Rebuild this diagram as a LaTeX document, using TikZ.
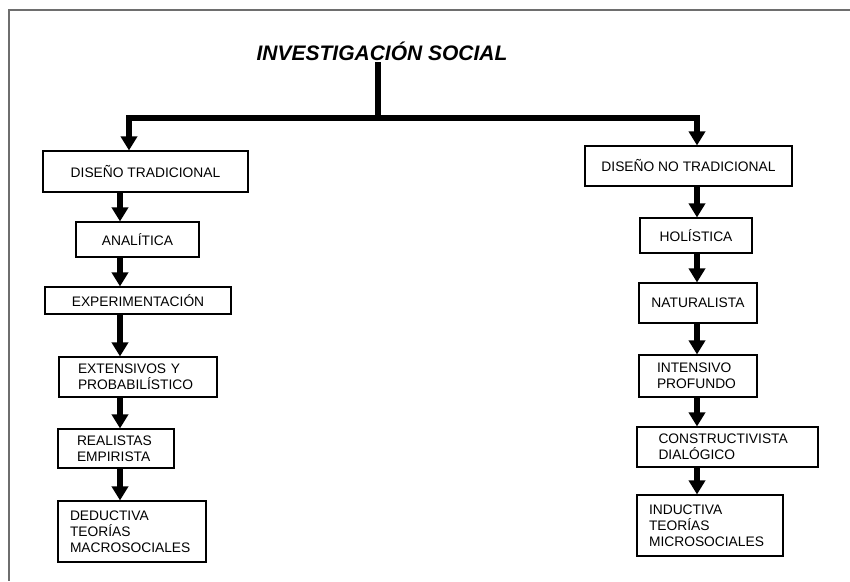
\documentclass[tikz,border=0pt]{standalone}
\usepackage{fontspec}
\setmainfont{Liberation Sans}
\usepackage{tikz}
\usetikzlibrary{arrows.meta}
\definecolor{framegray}{RGB}{110,110,110}
\definecolor{inkblack}{RGB}{0,0,0}
\tikzset{
  box/.style={draw=inkblack,line width=1.1pt,inner ysep=2pt,
    font=\fontsize{13.8}{15.8}\selectfont},
  leftbox/.style={box,align=left},
  thickline/.style={draw=inkblack,line width=5.5pt},
  downarr/.style={thickline,-{Triangle[width=16pt,length=14pt]}},
  titlefont/.style={font=\fontsize{21}{24}\selectfont\bfseries\itshape},
}
\newcommand{\darrow}[3]{\draw[downarr] (#1.south -| #3) -- (#2.north -| #3);}

\begin{document}
\begin{tikzpicture}[x=1pt,y=-1pt]
        \useasboundingbox (0,0) rectangle (850,581);
        \draw[framegray,line width=1.6pt] (850,10) -- (9,10) -- (9,581);
        % title and split
        \node[titlefont,anchor=base,inner sep=2pt] (title) at (382,60) {INVESTIGACIÓN SOCIAL};
        \coordinate (mid) at (378,118);
        \coordinate (lx) at (129,118);
        \coordinate (rx) at (697,118);
        \coordinate (cl) at (120,0);
        \coordinate (cr) at (697,0);
        % left column
        \node[box,minimum width=205pt,minimum height=41pt] (dt) at (145.5,171.5) {DISEÑO TRADICIONAL};
        \node[box,minimum width=123pt,minimum height=35pt] (ana) at (137.5,239.5) {ANALÍTICA};
        \node[box,minimum width=186pt,minimum height=27pt] (exp) at (138,300.5) {EXPERIMENTACIÓN};
        \node[leftbox,text width=120pt,inner xsep=19pt,minimum height=40pt] (ext) at (138,377) {EXTENSIVOS Y\\PROBABILÍSTICO};
        \node[leftbox,text width=78pt,inner xsep=19pt,minimum height=39pt] (rea) at (116,448.5) {REALISTAS\\EMPIRISTA};
        \node[leftbox,text width=124pt,inner xsep=12pt,minimum height=61pt] (ded) at (132,531.5) {DEDUCTIVA\\TEORÍAS\\MACROSOCIALES};
        % right column
        \node[box,minimum width=207pt,minimum height=40pt] (dnt) at (688.5,166) {DISEÑO NO TRADICIONAL};
        \node[box,minimum width=112pt,minimum height=35pt] (hol) at (696,235.5) {HOLÍSTICA};
        \node[box,minimum width=118pt,minimum height=40pt] (nat) at (698,303) {NATURALISTA};
        \node[leftbox,text width=82pt,inner xsep=18pt,minimum height=42pt] (int) at (698,376) {INTENSIVO\\PROFUNDO};
        \node[leftbox,text width=138pt,inner xsep=21.5pt,minimum height=40pt] (con) at (727.5,447) {CONSTRUCTIVISTA\\DIALÓGICO};
        \node[leftbox,text width=122pt,inner xsep=12pt,minimum height=61pt] (ind) at (710,525.5) {INDUCTIVA\\TEORÍAS\\MICROSOCIALES};
        % connectors
        \draw[thickline] (title.south -| mid) -- (mid);
        \draw[thickline,line cap=rect] (lx) -- (rx);
        \draw[downarr] (lx) -- (dt.north -| lx);
        \draw[downarr] (rx) -- (dnt.north -| rx);
        \darrow{dt}{ana}{cl}\darrow{ana}{exp}{cl}\darrow{exp}{ext}{cl}
        \darrow{ext}{rea}{cl}\darrow{rea}{ded}{cl}
        \darrow{dnt}{hol}{cr}\darrow{hol}{nat}{cr}\darrow{nat}{int}{cr}
        \darrow{int}{con}{cr}\darrow{con}{ind}{cr}
      \end{tikzpicture}
\end{document}
